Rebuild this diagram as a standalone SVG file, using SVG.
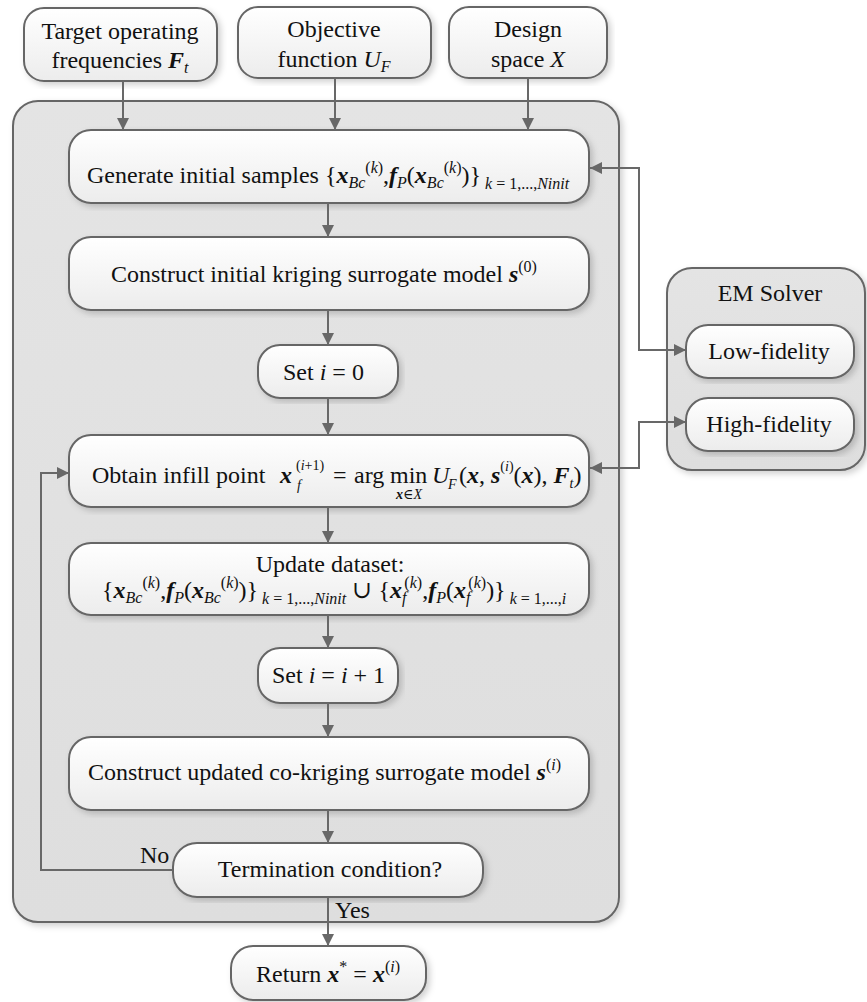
<svg xmlns="http://www.w3.org/2000/svg" width="867" height="1002" viewBox="0 0 867 1002">
<style>
text{font-family:"Liberation Serif",Tinos,"Times New Roman","DejaVu Serif",serif;font-size:24px;fill:#111}
.box{fill:url(#gBox);stroke:#666;stroke-width:2;filter:url(#sh)}
.cont{fill:url(#gCont);stroke:#666;stroke-width:2;filter:url(#sh)}
.ln{fill:none;stroke:#686868;stroke-width:2}
.bi{font-weight:bold;font-style:italic}
.it{font-style:italic}
.sm{font-size:16px}
.xs{font-size:14px}
</style>
<defs>
<linearGradient id="gBox" x1="0" y1="0" x2="0" y2="1"><stop offset="0" stop-color="#ffffff"/><stop offset="1" stop-color="#ececec"/></linearGradient>
<linearGradient id="gCont" x1="0" y1="0" x2="0" y2="1"><stop offset="0" stop-color="#e4e4e4"/><stop offset="1" stop-color="#dedede"/></linearGradient>
<filter id="sh" x="-5%" y="-5%" width="110%" height="115%"><feDropShadow dx="3" dy="3" stdDeviation="3" flood-color="#000" flood-opacity="0.18"/></filter>
<marker id="ah" viewBox="0 0 12 12" markerWidth="12" markerHeight="12" refX="12" refY="6" orient="auto-start-reverse" markerUnits="userSpaceOnUse"><path d="M0,0 L12,6 L0,12 z" fill="#686868"/></marker>
</defs>

<g id="main-container"><rect class="cont" x="13" y="101" width="606" height="821" rx="25"/></g>
<g id="em-solver"><rect class="cont" x="667" y="268" width="198" height="202" rx="25"/>
<text x="770" y="301" text-anchor="middle">EM Solver</text></g>

<g id="n-target"><rect class="box" x="24" y="8" width="193" height="73" rx="20"/>
<text x="120" y="39" text-anchor="middle">Target operating</text>
<text x="120" y="68" text-anchor="middle">frequencies <tspan class="bi">F</tspan><tspan class="it sm" dy="5">t</tspan></text></g>
<g id="n-objective"><rect class="box" x="238" y="7" width="193" height="71" rx="20"/>
<text x="334" y="37" text-anchor="middle">Objective</text>
<text x="334" y="67" text-anchor="middle">function <tspan class="it">U</tspan><tspan class="it sm" dy="5">F</tspan></text></g>
<g id="n-design"><rect class="box" x="449" y="7" width="158" height="71" rx="20"/>
<text x="528" y="37" text-anchor="middle">Design</text>
<text x="528" y="67" text-anchor="middle">space <tspan class="it">X</tspan></text></g>

<g id="n-generate"><rect class="box" x="69" y="130" width="520" height="73" rx="22"/>
<text x="87" y="183">Generate initial samples {<tspan class="bi">x</tspan><tspan class="it sm" dy="5">Bc</tspan><tspan class="sm" dy="-15">(<tspan class="it">k</tspan>)</tspan><tspan dy="10">,</tspan><tspan class="bi">f</tspan><tspan class="it sm" dy="5">P</tspan><tspan dy="-5">(</tspan><tspan class="bi">x</tspan><tspan class="it sm" dy="5">Bc</tspan><tspan class="sm" dy="-15">(<tspan class="it">k</tspan>)</tspan><tspan dy="10">)}</tspan><tspan class="sm" dy="6"> <tspan class="it">k</tspan> = 1,...,<tspan class="it">Ninit</tspan></tspan></text></g>

<g id="n-construct-init"><rect class="box" x="69" y="237" width="520" height="73" rx="22"/>
<text x="111" y="282">Construct initial kriging surrogate model <tspan class="bi">s</tspan><tspan class="sm" dy="-10">(0)</tspan></text></g>

<g id="n-set0"><rect class="box" x="258" y="345" width="140" height="53" rx="22"/>
<text x="283" y="380">Set <tspan class="it">i</tspan> = 0</text></g>

<g id="n-obtain"><rect class="box" x="69" y="435" width="520" height="72" rx="22"/>
<text x="92" y="483">Obtain infill point</text>
<text x="280" y="483" class="bi">x</text>
<text x="296" y="470" class="xs">(<tspan class="it">i</tspan>+1)</text>
<text x="297" y="490" class="xs it">f</text>
<text x="333" y="483">=</text>
<text x="354" y="483">arg</text>
<text x="390" y="483">min</text>
<text x="409" y="499" class="xs" text-anchor="middle"><tspan class="bi">x</tspan>∈<tspan class="it">X</tspan></text>
<text x="432" y="483" class="it">U</text>
<text x="448" y="489" class="xs it">F</text>
<text x="459" y="483">(<tspan class="bi">x</tspan>, <tspan class="bi">s</tspan><tspan class="xs" dy="-12">(<tspan class="it">i</tspan>)</tspan><tspan dy="12">(</tspan><tspan class="bi">x</tspan>), <tspan class="bi">F</tspan><tspan class="xs it" dy="5">t</tspan><tspan dy="-5">)</tspan></text></g>

<g id="n-update"><rect class="box" x="69" y="543" width="520" height="72" rx="22"/>
<text x="330" y="572" text-anchor="middle">Update dataset:</text>
<text x="102" y="598">{<tspan class="bi">x</tspan><tspan class="it sm" dy="5">Bc</tspan><tspan class="sm" dy="-15">(<tspan class="it">k</tspan>)</tspan><tspan dy="10">,</tspan><tspan class="bi">f</tspan><tspan class="it sm" dy="5">P</tspan><tspan dy="-5">(</tspan><tspan class="bi">x</tspan><tspan class="it sm" dy="5">Bc</tspan><tspan class="sm" dy="-15">(<tspan class="it">k</tspan>)</tspan><tspan dy="10">)}</tspan><tspan class="sm" dy="6"> <tspan class="it">k</tspan> = 1,...,<tspan class="it">Ninit</tspan></tspan><tspan dy="-6"> ∪  {</tspan><tspan class="bi">x</tspan><tspan class="it sm" dy="5">f</tspan><tspan class="sm" dy="-15" dx="-2">(<tspan class="it">k</tspan>)</tspan><tspan dy="10">,</tspan><tspan class="bi">f</tspan><tspan class="it sm" dy="5">P</tspan><tspan dy="-5">(</tspan><tspan class="bi">x</tspan><tspan class="it sm" dy="5">f</tspan><tspan class="sm" dy="-15" dx="-2">(<tspan class="it">k</tspan>)</tspan><tspan dy="10">)}</tspan><tspan class="sm" dy="6"> <tspan class="it">k</tspan> = 1,...,<tspan class="it">i</tspan></tspan></text></g>

<g id="n-set1"><rect class="box" x="258" y="648" width="140" height="55" rx="22"/>
<text x="272" y="683">Set <tspan class="it">i</tspan> = <tspan class="it">i</tspan> + 1</text></g>

<g id="n-construct-upd"><rect class="box" x="69" y="737" width="520" height="73" rx="22"/>
<text x="88" y="780">Construct updated co-kriging surrogate model <tspan class="bi">s</tspan><tspan class="sm" dy="-10">(<tspan class="it">i</tspan>)</tspan></text></g>

<g id="n-termination"><rect class="box" x="173" y="843" width="310" height="54" rx="24"/>
<text x="330" y="877" text-anchor="middle">Termination condition?</text></g>

<g id="n-return"><rect class="box" x="231" y="946" width="195" height="54" rx="22"/>
<text x="256" y="982">Return <tspan class="bi">x</tspan><tspan class="sm" dy="-10">*</tspan><tspan dy="10"> = </tspan><tspan class="bi">x</tspan><tspan class="sm" dy="-10">(<tspan class="it">i</tspan>)</tspan></text></g>

<g id="n-low"><rect class="box" x="686" y="325" width="168" height="53" rx="22"/>
<text x="769" y="359" text-anchor="middle">Low-fidelity</text></g>
<g id="n-high"><rect class="box" x="686" y="398" width="168" height="53" rx="22"/>
<text x="769" y="432" text-anchor="middle">High-fidelity</text></g>

<g id="connectors">
<path class="ln" d="M123,81 V130" marker-end="url(#ah)"/>
<path class="ln" d="M335,78 V130" marker-end="url(#ah)"/>
<path class="ln" d="M528,78 V130" marker-end="url(#ah)"/>
<path class="ln" d="M328,203 V237" marker-end="url(#ah)"/>
<path class="ln" d="M328,310 V345" marker-end="url(#ah)"/>
<path class="ln" d="M328,398 V435" marker-end="url(#ah)"/>
<path class="ln" d="M328,507 V543" marker-end="url(#ah)"/>
<path class="ln" d="M328,615 V648" marker-end="url(#ah)"/>
<path class="ln" d="M328,703 V737" marker-end="url(#ah)"/>
<path class="ln" d="M328,810 V843" marker-end="url(#ah)"/>
<path class="ln" d="M328,897 V946" marker-end="url(#ah)"/>
<path class="ln" d="M173,870 H41 V473 H69" marker-end="url(#ah)"/>
<path class="ln" d="M590,168 H639 V350 H686" marker-start="url(#ah)" marker-end="url(#ah)"/>
<path class="ln" d="M590,468 H639 V422 H686" marker-start="url(#ah)" marker-end="url(#ah)"/>
<text x="140" y="863">No</text>
<text x="335" y="918">Yes</text>
</g>
</svg>
